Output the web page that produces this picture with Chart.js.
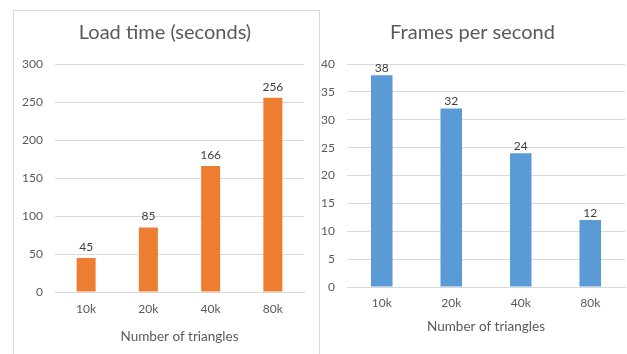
<!DOCTYPE html>
<html>
<head>
<meta charset="utf-8">
<script src="https://cdn.jsdelivr.net/npm/chart.js@4/dist/chart.umd.min.js"></script>
<style>
  html, body { margin: 0; padding: 0; background: #fff; width: 627px; height: 354px; overflow: hidden; }
  #boxL { position: absolute; left: 13px; top: 10px; width: 305px; height: 344px;
          border-left: 1px solid #d9d9d9; border-top: 1px solid #d9d9d9; border-right: 1px solid #d9d9d9; }
  #wrapL { position: absolute; left: 14px; top: 11px; width: 305px; height: 343px; }
  #wrapR { position: absolute; left: 320px; top: 10px; width: 307px; height: 344px; }
</style>
</head>
<body>
<div id="boxL"></div>
<div id="wrapL"><canvas id="c1"></canvas></div>
<div id="wrapR"><canvas id="c2"></canvas></div>
<script>
const categories = ['10k', '20k', '40k', '80k'];
const loadTimeValues = [45, 85, 166, 256];
const fpsValues = [38, 32, 24, 12];
const loadTimeTitle = 'Load time (seconds)';
const fpsTitle = 'Frames per second';
const xAxisTitle = 'Number of triangles';

const TEXT = '#595959';
const GRID = '#d9d9d9';
const FONT = 'Lato, "Open Sans", sans-serif';

const valueLabels = {
  id: 'valueLabels',
  afterDatasetsDraw(chart, args, opts) {
    const ctx = chart.ctx;
    ctx.save();
    ctx.fillStyle = '#404040';
    ctx.font = '12px ' + FONT;
    ctx.textAlign = 'center';
    ctx.textBaseline = 'middle';
    chart.data.datasets.forEach((ds, di) => {
      chart.getDatasetMeta(di).data.forEach((el, i) => {
        ctx.fillText(String(ds.data[i]), el.x, el.y - opts.offset);
      });
    });
    ctx.restore();
  }
};

function makeChart(id, values, color, title, max, step, cfg) {
  return new Chart(document.getElementById(id), {
    type: 'bar',
    data: {
      labels: categories,
      datasets: [{ data: values, backgroundColor: color, borderWidth: 0,
                   categoryPercentage: 1, barPercentage: cfg.barPct }]
    },
    plugins: [valueLabels],
    options: {
      responsive: true,
      maintainAspectRatio: false,
      animation: false,
      devicePixelRatio: 1,
      layout: { padding: cfg.padding },
      plugins: {
        legend: { display: false },
        tooltip: { enabled: false },
        title: { display: true, text: title, color: TEXT,
                 font: { family: FONT, size: 20, weight: 'normal' },
                 padding: cfg.titlePad },
        valueLabels: { offset: cfg.labelOffset }
      },
      scales: {
        x: {
          grid: { display: false, drawTicks: false },
          border: { display: true, color: GRID, width: 1 },
          ticks: { color: TEXT, font: { family: FONT, size: 12 }, padding: cfg.xTickPad },
          title: { display: true, text: xAxisTitle, color: TEXT,
                   font: { family: FONT, size: 13.5 }, padding: { top: 0, bottom: 0 } },
          afterFit(scale) { scale.height = cfg.xHeight; }
        },
        y: {
          min: 0, max: max,
          grid: { color: GRID, drawTicks: false },
          border: { display: false },
          ticks: { stepSize: step, color: TEXT, font: { family: FONT, size: 12 }, padding: 12 },
          afterFit(scale) { scale.width = cfg.yWidth; }
        },
        yR: {
          position: 'right',
          grid: { display: false, drawTicks: false },
          border: { display: false },
          ticks: { display: false },
          afterFit(scale) { scale.width = cfg.rightWidth; }
        }
      }
    }
  });
}

makeChart('c1', loadTimeValues, '#ED7D31', loadTimeTitle, 300, 50, {
  barPct: 0.305,
  padding: { top: 0, right: 3, bottom: 9, left: 0 },
  titlePad: { top: 10, bottom: 19.5 },
  labelOffset: 11,
  xTickPad: 10,
  xHeight: 53,
  yWidth: 41,
  rightWidth: 12
});

makeChart('c2', fpsValues, '#5B9BD5', fpsTitle, 40, 5, {
  barPct: 0.31,
  padding: { top: 0, right: 2, bottom: 19, left: 0 },
  titlePad: { top: 11, bottom: 19 },
  labelOffset: 7,
  xTickPad: 9,
  xHeight: 48,
  yWidth: 27,
  rightWidth: 0
});
</script>
</body>
</html>
